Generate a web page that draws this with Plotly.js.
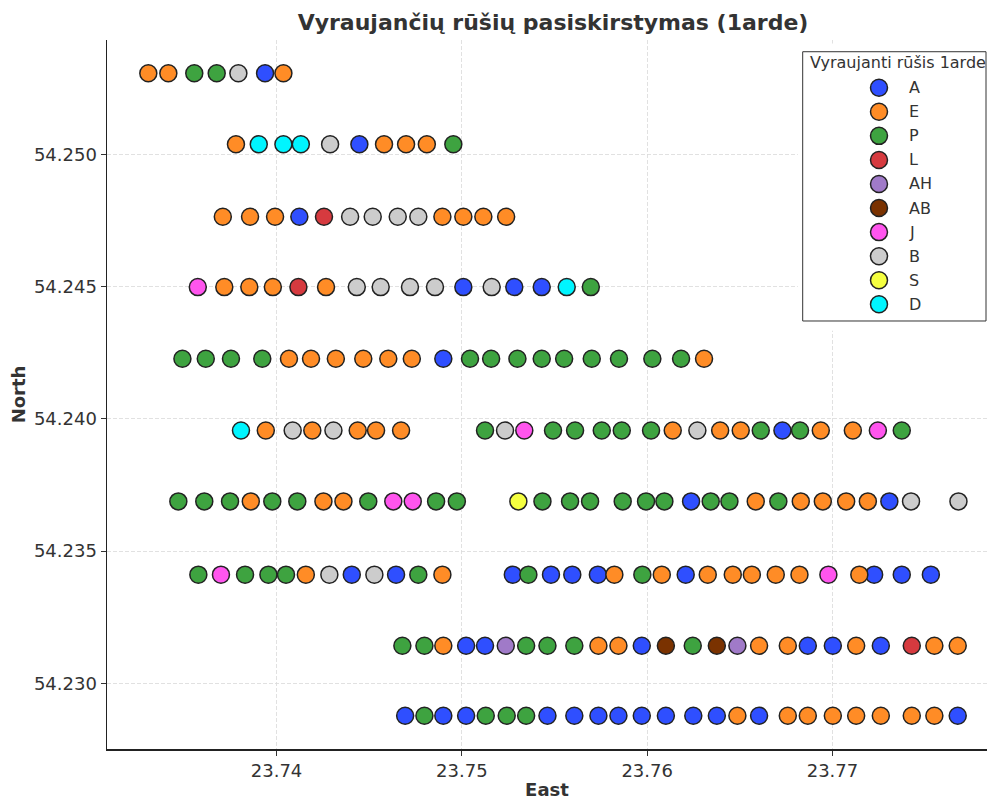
<!DOCTYPE html>
<html>
<head>
<meta charset="utf-8">
<script src="https://cdn.plot.ly/plotly-3.0.1.min.js"></script>
<style>html,body{margin:0;padding:0;background:#fff;}#chart{width:987px;height:800px;}</style>
</head>
<body>
<div id="chart"></div>
<script>
// ---- data ----
const speciesOrder = ['A','E','P','L','AH','AB','J','B','S','D'];
const chartTitle = 'Vyraujančių rūšių pasiskirstymas (1arde)';
const legendTitle = 'Vyraujanti rūšis 1arde';
const xTitle = 'East';
const yTitle = 'North';

const rowNorth = [54.25306, 54.25038, 54.24764, 54.24498, 54.24227, 54.23956, 54.23688, 54.23411, 54.23142, 54.22878];

const row1East = [23.73308, 23.73416, 23.73556, 23.73677, 23.73794, 23.73938, 23.74037];
const row1Species = ['E','E','P','P','B','A','E'];

const row2East = [23.73781, 23.73904, 23.74037, 23.74131, 23.74289, 23.74447, 23.74580, 23.74699, 23.74811, 23.74954];
const row2Species = ['E','D','D','D','B','A','E','E','E','P'];

const row3East = [23.73710, 23.73857, 23.73992, 23.74123, 23.74256, 23.74397, 23.74519, 23.74654, 23.74765, 23.74895, 23.75008, 23.75116, 23.75239];
const row3Species = ['E','E','E','A','L','B','B','B','B','E','E','E','E'];

const row4East = [23.73575, 23.73718, 23.73853, 23.73980, 23.74118, 23.74267, 23.74433, 23.74562, 23.74720, 23.74855, 23.75008, 23.75161, 23.75283, 23.75431, 23.75566, 23.75696];
const row4Species = ['J','E','E','E','L','E','B','B','B','B','A','B','A','A','D','P'];

const row5East = [23.73492, 23.73618, 23.73754, 23.73923, 23.74067, 23.74186, 23.74320, 23.74468, 23.74603, 23.74730, 23.74900, 23.75044, 23.75158, 23.75300, 23.75431, 23.75552, 23.75701, 23.75848, 23.76028, 23.76183, 23.76307];
const row5Species = ['P','P','P','P','E','E','E','E','E','E','A','P','P','P','P','P','P','P','P','P','E'];

const row6East = [23.73808, 23.73942, 23.74087, 23.74193, 23.74307, 23.74438, 23.74537, 23.74672, 23.75125, 23.75233, 23.75337, 23.75492, 23.75611, 23.75755, 23.75863, 23.76021, 23.76138, 23.76271, 23.76394, 23.76505, 23.76613, 23.76730, 23.76825, 23.76937, 23.77110, 23.77245, 23.77374];
const row6Species = ['D','E','B','E','B','E','E','E','P','B','J','P','P','P','P','P','E','B','E','E','P','A','P','E','E','J','P'];

const row7East = [23.73470, 23.73610, 23.73749, 23.73861, 23.73977, 23.74112, 23.74253, 23.74361, 23.74495, 23.74630, 23.74735, 23.74861, 23.74973, 23.75305, 23.75435, 23.75584, 23.75692, 23.75868, 23.75994, 23.76093, 23.76237, 23.76343, 23.76444, 23.76586, 23.76708, 23.76829, 23.76948, 23.77074, 23.77191, 23.77307, 23.77424, 23.77680];
const row7Species = ['P','P','P','E','P','P','E','E','P','J','J','P','P','S','P','P','P','P','P','P','A','P','P','E','P','E','E','E','E','A','B','B'];

const row8East = [23.73578, 23.73700, 23.73830, 23.73956, 23.74051, 23.74158, 23.74285, 23.74406, 23.74528, 23.74645, 23.74765, 23.74895, 23.75275, 23.75359, 23.75481, 23.75596, 23.75734, 23.75823, 23.75974, 23.76079, 23.76208, 23.76327, 23.76462, 23.76565, 23.76694, 23.76822, 23.76978, 23.77145, 23.77225, 23.77374, 23.77531];
const row8Species = ['P','J','P','P','P','E','B','A','B','A','P','E','A','P','A','A','A','E','P','E','A','E','E','E','E','E','J','E','A','A','A'];

const row9East = [23.74679, 23.74798, 23.74900, 23.75023, 23.75125, 23.75237, 23.75347, 23.75462, 23.75607, 23.75737, 23.75845, 23.75971, 23.76101, 23.76246, 23.76376, 23.76487, 23.76604, 23.76759, 23.76867, 23.77002, 23.77128, 23.77261, 23.77428, 23.77550, 23.77676];
const row9Species = ['P','P','E','A','A','AH','P','P','P','E','E','A','AB','P','AB','AH','E','E','A','A','E','A','L','E','E'];

const row10East = [23.74694, 23.74798, 23.74900, 23.75023, 23.75129, 23.75242, 23.75347, 23.75462, 23.75607, 23.75737, 23.75845, 23.75971, 23.76101, 23.76249, 23.76376, 23.76487, 23.76604, 23.76759, 23.76867, 23.77002, 23.77128, 23.77261, 23.77428, 23.77550, 23.77676];
const row10Species = ['A','P','A','A','P','P','P','A','A','A','A','A','A','A','A','E','A','E','E','E','E','E','E','E','A'];

// ---- styles ----
const speciesColors = {
  A: '#2f4fff', E: '#ff8c26', P: '#3ea340', L: '#d63a3f', AH: '#a07ac8',
  AB: '#7a3200', J: '#ff55ee', B: '#cccccc', S: '#f5ff40', D: '#00f5ff'
};
const FONT = 'DejaVu Sans, Verdana, sans-serif';
const MARKER_SIZE = 17;
const EDGE = {color: '#222', width: 1.5};

const rowsEast = [row1East,row2East,row3East,row4East,row5East,row6East,row7East,row8East,row9East,row10East];
const rowsSpecies = [row1Species,row2Species,row3Species,row4Species,row5Species,row6Species,row7Species,row8Species,row9Species,row10Species];

const traces = speciesOrder.map(sp => {
  const xs = [], ys = [];
  rowsEast.forEach((row, r) => {
    row.forEach((x, i) => { if (rowsSpecies[r][i] === sp) { xs.push(x); ys.push(rowNorth[r]); } });
  });
  return {
    type: 'scatter', mode: 'markers', name: sp, x: xs, y: ys,
    xaxis: 'x', yaxis: 'y', showlegend: false, hoverinfo: 'x+y+name',
    marker: {size: MARKER_SIZE, color: speciesColors[sp], line: EDGE}
  };
});

// custom legend drawn on its own hidden axes (units: px across, entry index down)
const LEG_MARKER_X = 81.2, LEG_LABEL_X = 109.2;
traces.push({
  type: 'scatter', mode: 'markers', xaxis: 'x2', yaxis: 'y2', showlegend: false, hoverinfo: 'skip',
  x: speciesOrder.map(() => LEG_MARKER_X),
  y: speciesOrder.map((s, i) => i),
  marker: {size: MARKER_SIZE, color: speciesOrder.map(s => speciesColors[s]), line: EDGE},
  cliponaxis: false
});

const annotations = speciesOrder.map((s, i) => ({
  xref: 'x2', yref: 'y2', x: LEG_LABEL_X, y: i, text: s, showarrow: false,
  xanchor: 'left', yanchor: 'middle', font: {family: FONT, size: 16, color: '#333'}
}));
annotations.push({
  xref: 'x2', yref: 'y2', x: 10.5, y: -1.068, text: legendTitle, showarrow: false,
  xanchor: 'left', yanchor: 'middle', font: {family: FONT, size: 16, color: '#333'}
});

const layout = {
  width: 987, height: 800,
  margin: {l: 107, r: 0, t: 40, b: 51},
  paper_bgcolor: '#fff', plot_bgcolor: '#fff',
  showlegend: false,
  font: {family: FONT, color: '#333'},
  title: {
    text: '<b>' + chartTitle + '</b>', xref: 'container', yref: 'container',
    x: 0.5603, y: 0.9725, xanchor: 'center', yanchor: 'middle',
    font: {family: FONT, size: 22, color: '#333'}
  },
  xaxis: {
    domain: [0, 1], anchor: 'y',
    range: [23.73085, 23.77834], dtick: 0.01, tick0: 23.74, tickformat: '.2f',
    showgrid: true, gridcolor: '#d9d9d9', griddash: '4px,2px', gridwidth: 0.8,
    zeroline: false, showline: true, linecolor: '#222', linewidth: 1.5,
    ticks: 'outside', ticklen: 5, tickwidth: 1, tickcolor: '#333',
    tickfont: {family: FONT, size: 18, color: '#333'},
    title: {text: '<b>' + xTitle + '</b>', font: {family: FONT, size: 18, color: '#333'}, standoff: 6}
  },
  yaxis: {
    domain: [0, 1], anchor: 'x',
    range: [54.22752, 54.25432], dtick: 0.005, tick0: 54.23, tickformat: '.3f',
    showgrid: true, gridcolor: '#d9d9d9', griddash: '4px,2px', gridwidth: 0.8,
    zeroline: false, showline: true, linecolor: '#222', linewidth: 1.5,
    ticks: 'outside', ticklen: 5, tickwidth: 1, tickcolor: '#333',
    tickfont: {family: FONT, size: 18, color: '#333'},
    title: {text: '<b>' + yTitle + '</b>', font: {family: FONT, size: 18, color: '#333'}, standoff: 3}
  },
  xaxis2: {domain: [0.785, 1], anchor: 'y2', range: [0, 189.2], visible: false, fixedrange: true},
  yaxis2: {domain: [0.59, 0.995], anchor: 'x2', range: [10.096, -1.836], visible: false, fixedrange: true},
  shapes: [{
    type: 'rect', xref: 'x2', yref: 'y2', layer: 'below',
    x0: 4.9, x1: 188.2, y0: -1.496, y1: 9.693,
    line: {color: '#333', width: 1}, fillcolor: '#fff'
  }],
  annotations: annotations
};

Plotly.newPlot('chart', traces, layout, {displayModeBar: false, staticPlot: true});
</script>
</body>
</html>
